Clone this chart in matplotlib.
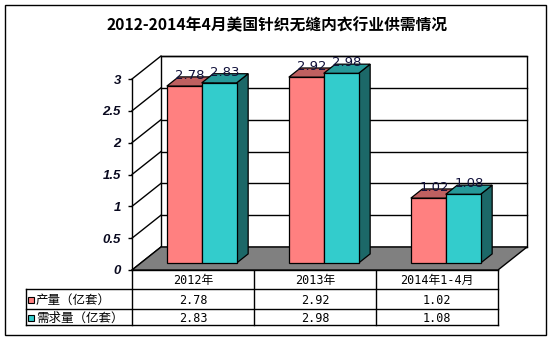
import matplotlib
matplotlib.use("Agg")
import matplotlib.pyplot as plt
from matplotlib.patches import Polygon, Rectangle

# ---- data ----
categories = ["2012年", "2013年", "2014年1-4月"]
series_names = ["产量（亿套）", "需求量（亿套）"]
production = [2.78, 2.92, 1.02]
demand = [2.83, 2.98, 1.08]
y_ticks = [0, 0.5, 1, 1.5, 2, 2.5, 3]
y_tick_labels = ["0", "0.5", "1", "1.5", "2", "2.5", "3"]
title = "2012-2014年4月美国针织无缝内衣行业供需情况"

# ---- layout (pixels) ----
W, H = 554, 341
FRONT_LEFT, FRONT_RIGHT = 132, 498
FRONT_TOP, FRONT_BOTTOM = 79, 270
DEPTH_PX = (29, 23)
TABLE_LEFT = 26
ROWS = [270, 289, 309, 325]

CJK = ["Noto Sans CJK SC", "DejaVu Sans"]
MONO_CJK = ["DejaVu Sans Mono", "Noto Sans CJK SC"]

face_colors = ["#FF8080", "#33CCCC"]
top_colors = ["#BF6060", "#269999"]
side_colors = ["#994D4D", "#1C6868"]

fig = plt.figure(figsize=(W / 100, H / 100), dpi=100)
fig.patch.set_facecolor("white")

# overlay in pixel coordinates: frame, title, data table
lay = fig.add_axes([0, 0, 1, 1])
lay.set_xlim(0, W)
lay.set_ylim(H, 0)
lay.axis("off")
lay.add_patch(Rectangle((5, 5), 541, 330, fill=False, ec="black", lw=1))
lay.text(W / 2, 25, title, ha="center", va="center", fontsize=11.3,
         fontweight="bold", family=CJK)

# main axes = front plane of the 3-D box
ax = fig.add_axes([FRONT_LEFT / W, (H - FRONT_BOTTOM) / H,
                   (FRONT_RIGHT - FRONT_LEFT) / W, (FRONT_BOTTOM - FRONT_TOP) / H])
ax.set_xlim(0, len(categories))
ax.set_ylim(0, 3)
ax.patch.set_visible(False)

ncat = len(categories)
DX = DEPTH_PX[0] * ncat / (FRONT_RIGHT - FRONT_LEFT)
DY = DEPTH_PX[1] * 3 / (FRONT_BOTTOM - FRONT_TOP)


def P(x, v, d):
    return (x + d * DX, v + d * DY)


def poly(pts, fc, z, ec="black", lw=0.9):
    ax.add_patch(Polygon(pts, closed=True, fc=fc, ec=ec, lw=lw,
                         zorder=z, clip_on=False, joinstyle="miter"))


# back wall with gridlines
poly([P(0, 0, 1), P(ncat, 0, 1), P(ncat, 3, 1), P(0, 3, 1)], "white", 1, lw=1)
for v in y_ticks:
    (x0, y0), (x1, y1) = P(0, v, 1), P(ncat, v, 1)
    ax.plot([x0, x1], [y0, y1], color="black", lw=1, zorder=1.5, clip_on=False)
    (a0, b0), (a1, b1) = P(0, v, 0), P(0, v, 1)
    ax.plot([a0, a1], [b0, b1], color="black", lw=1, zorder=1.5, clip_on=False)

# floor
poly([P(0, 0, 0), P(ncat, 0, 0), P(ncat, 0, 1), P(0, 0, 1)], "#808080", 2, lw=1)

# 3-D columns
w = 1 / 3.5
d0, d1 = 0.3, 0.7
z = 3
for i in range(ncat):
    for j, vals in enumerate([production, demand]):
        v = vals[i]
        x0 = i + 0.5 - w + j * w
        x1 = x0 + w
        poly([P(x1, 0, d0), P(x1, v, d0), P(x1, v, d1), P(x1, 0, d1)], side_colors[j], z)
        poly([P(x0, v, d0), P(x1, v, d0), P(x1, v, d1), P(x0, v, d1)], top_colors[j], z + 0.1)
        poly([P(x0, 0, d0), P(x1, 0, d0), P(x1, v, d0), P(x0, v, d0)], face_colors[j], z + 0.2)
        z += 1
for i in range(ncat):
    for j, vals in enumerate([production, demand]):
        v = vals[i]
        x0 = i + 0.5 - w + j * w
        ax.annotate(f"{v:.2f}", xy=P(x0 + w / 2, v, 0.5), xytext=(0, 6),
                    textcoords="offset pixels", ha="center", va="center",
                    fontsize=9.5, color="#10103a", zorder=50, annotation_clip=False)

# value axis on the front-left edge
for s in ["top", "right", "bottom"]:
    ax.spines[s].set_visible(False)
ax.spines["left"].set_linewidth(1)
ax.spines["left"].set_zorder(40)
ax.set_xticks([])
ax.set_yticks(y_ticks)
ax.set_yticklabels(y_tick_labels)
ax.tick_params(axis="y", length=3, width=1, pad=5, direction="out")
for t in ax.get_yticklabels():
    t.set_fontfamily("Liberation Sans")
    t.set_fontweight("bold")
    t.set_fontstyle("italic")
    t.set_fontsize(9.5)
    t.set_color("#0a0a20")

# data table
cat_w = (FRONT_RIGHT - FRONT_LEFT) / ncat
col_x = [FRONT_LEFT + cat_w * k for k in range(ncat + 1)]
lay.plot([col_x[0], col_x[-1]], [ROWS[0], ROWS[0]], color="black", lw=1)
for yy in ROWS[1:]:
    lay.plot([TABLE_LEFT, col_x[-1]], [yy, yy], color="black", lw=1)
lay.plot([TABLE_LEFT, TABLE_LEFT], [ROWS[1], ROWS[-1]], color="black", lw=1)
for xx in col_x:
    lay.plot([xx, xx], [ROWS[0], ROWS[-1]], color="black", lw=1)

for k, name in enumerate(categories):
    lay.text((col_x[k] + col_x[k + 1]) / 2, (ROWS[0] + ROWS[1]) / 2 + 1, name,
             ha="center", va="center", fontsize=8.5, family=MONO_CJK)
for r, (name, vals) in enumerate(zip(series_names, [production, demand])):
    yc = (ROWS[r + 1] + ROWS[r + 2]) / 2 + 1
    lay.add_patch(Rectangle((28, yc - 3), 6, 6, fc=face_colors[r], ec="black", lw=0.8))
    lay.text(36, yc, name, ha="left", va="center", fontsize=9, family=CJK)
    for k, v in enumerate(vals):
        lay.text((col_x[k] + col_x[k + 1]) / 2, yc, f"{v:.2f}",
                 ha="center", va="center", fontsize=8.5, family=MONO_CJK)

fig.savefig("out.png", dpi=100)
